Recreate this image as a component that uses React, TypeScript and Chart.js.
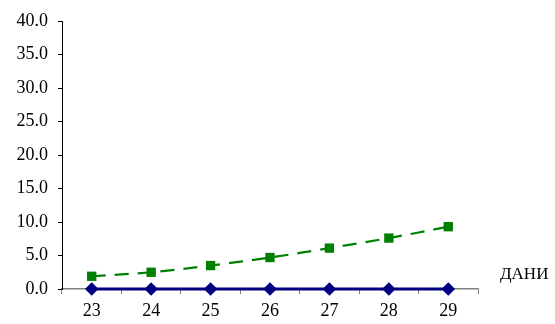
import React, { useEffect, useRef } from "react";
import { Chart, registerables } from "chart.js";

Chart.register(...registerables);

const categories = ["23", "24", "25", "26", "27", "28", "29"];
const seriesBlue = [0, 0, 0, 0, 0, 0, 0];
const seriesGreen = [1.9, 2.5, 3.5, 4.7, 6.1, 7.6, 9.3];
const yMin = 0;
const yMax = 40;
const yStep = 5;
const axisTitle = "ДАНИ";

const FONT = "'Liberation Serif', 'Times New Roman', serif";

export default function App() {
  const ref = useRef<HTMLCanvasElement | null>(null);

  useEffect(() => {
    if (!ref.current) return;
    const chart = new Chart(ref.current, {
      type: "line",
      data: {
        labels: categories,
        datasets: [
          {
            label: "green",
            data: seriesGreen,
            borderColor: "#008000",
            backgroundColor: "#008000",
            borderWidth: 2.2,
            borderDash: [14, 9],
            tension: 0.3,
            pointStyle: "rect",
            pointRadius: 6.6,
            pointBorderWidth: 0,
            fill: false,
            clip: false,
          },
          {
            label: "blue",
            data: seriesBlue,
            borderColor: "#000080",
            backgroundColor: "#000080",
            borderWidth: 3,
            tension: 0,
            pointStyle: "rectRot",
            pointRadius: 6.8,
            pointBorderWidth: 0,
            fill: false,
            clip: false,
          },
        ],
      },
      options: {
        animation: false,
        responsive: false,
        maintainAspectRatio: false,
        layout: { padding: { left: 0, right: 77, top: 21, bottom: 0 } },
        plugins: {
          legend: { display: false },
          tooltip: { enabled: false },
        },
        scales: {
          x: {
            type: "category",
            offset: true,
            grid: {
              offset: true,
              drawOnChartArea: false,
              drawTicks: true,
              tickLength: 5,
              color: "#808080",
            },
            border: { color: "#808080", width: 1.5 },
            ticks: {
              color: "#000",
              font: { family: FONT, size: 18 },
              padding: 6,
              maxRotation: 0,
            },
            afterFit: (s: any) => {
              s.height = 35;
            },
          },
          y: {
            min: yMin,
            max: yMax,
            ticks: {
              stepSize: yStep,
              color: "#000",
              font: { family: FONT, size: 18 },
              padding: 10,
              callback: (v: any) => Number(v).toFixed(1),
            },
            grid: {
              drawOnChartArea: false,
              drawTicks: true,
              tickLength: 4,
              color: "#000",
            },
            border: { color: "#000", width: 1 },
            afterFit: (s: any) => {
              s.width = 62;
            },
          },
        },
      },
    });
    return () => chart.destroy();
  }, []);

  return (
    <div
      style={{
        position: "absolute",
        left: 0,
        top: 0,
        width: 555,
        height: 324,
        background: "#fff",
      }}
    >
      <canvas ref={ref} width={555} height={324} style={{ display: "block" }} />
      <span
        style={{
          position: "absolute",
          left: 500,
          top: 264,
          fontFamily: FONT,
          fontSize: 17,
          color: "#000",
          whiteSpace: "nowrap",
          lineHeight: "20px",
        }}
      >
        {axisTitle}
      </span>
    </div>
  );
}
